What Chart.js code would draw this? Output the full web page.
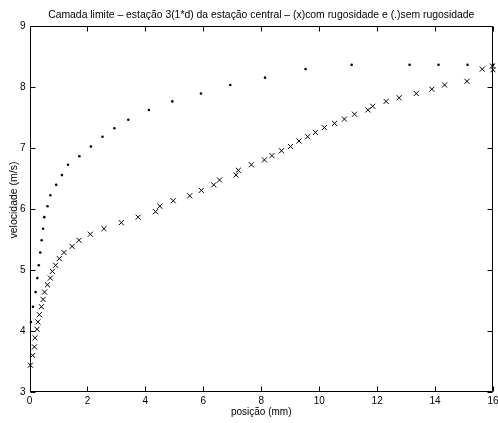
<!DOCTYPE html>
<html>
<head>
<meta charset="utf-8">
<script src="https://cdn.jsdelivr.net/npm/chart.js@4"></script>
<style>
  body { margin: 0; background: #fff; }
  #wrap { width: 498px; height: 423px; }
</style>
</head>
<body>
<div id="wrap"><canvas id="camada"></canvas></div>
<script>
// (.) sem rugosidade
const posSem = [0.05, 0.12, 0.21, 0.27, 0.32, 0.37, 0.42, 0.47, 0.51, 0.62, 0.72, 0.92, 1.12, 1.33, 1.72,
    2.12, 2.52, 2.93, 3.41, 4.12, 4.93, 5.92, 6.93, 8.13, 9.53, 11.12, 13.12, 14.12, 15.12, 16.0];
const velSem = [4.15, 4.40, 4.64, 4.87, 5.08, 5.29, 5.49, 5.68, 5.87, 6.05, 6.23, 6.40, 6.56, 6.73, 6.87,
    7.03, 7.19, 7.33, 7.47, 7.63, 7.77, 7.90, 8.04, 8.16, 8.30, 8.37, 8.37, 8.37, 8.37, 8.37];

// (x) com rugosidade
const posCom = [0.03, 0.11, 0.17, 0.19, 0.26, 0.29, 0.34, 0.41, 0.47, 0.52, 0.62, 0.72, 0.79, 0.90, 1.03,
    1.19, 1.47, 1.71, 2.10, 2.57, 3.17, 3.75, 4.35, 4.50, 4.96, 5.53, 5.93, 6.36, 6.56, 7.13, 7.21, 7.66,
    8.11, 8.37, 8.70, 9.01, 9.30, 9.60, 9.87, 10.18, 10.53, 10.87, 11.22, 11.68, 11.85, 12.31, 12.76,
    13.35, 13.89, 14.33, 15.10, 15.63, 15.98, 16.0];
const velCom = [3.44, 3.60, 3.74, 3.89, 4.03, 4.15, 4.27, 4.40, 4.52, 4.64, 4.76, 4.87, 4.98, 5.08, 5.19,
    5.29, 5.39, 5.49, 5.59, 5.68, 5.78, 5.87, 5.96, 6.05, 6.14, 6.22, 6.31, 6.40, 6.48, 6.56, 6.64, 6.73,
    6.81, 6.88, 6.96, 7.03, 7.12, 7.19, 7.26, 7.34, 7.41, 7.48, 7.56, 7.63, 7.69, 7.77, 7.83,
    7.90, 7.97, 8.04, 8.10, 8.30, 8.35, 8.29];

const xTicks = [0, 2, 4, 6, 8, 10, 12, 14, 16];
const yTicks = [3, 4, 5, 6, 7, 8, 9];

const toPoints = (xs, ys) => xs.map((v, i) => ({ x: v, y: ys[i] }));

const font = { family: 'Liberation Sans, Arial, sans-serif', size: 10 };

// matlab style box with inward ticks, plus the y label
const matlabBox = {
    id: 'matlabBox',
    afterDraw(chart) {
        const ctx = chart.ctx;
        const a = chart.chartArea;
        const sx = chart.scales.x, sy = chart.scales.y;
        ctx.save();
        ctx.strokeStyle = '#000';
        ctx.lineWidth = 1;
        const l = Math.round(a.left) + 0.5, r = Math.round(a.right) - 0.5;
        const t = Math.round(a.top) + 0.5, b = Math.round(a.bottom) - 0.5;
        ctx.beginPath();
        ctx.rect(l, t, r - l, b - t);
        xTicks.forEach(v => {
            const px = Math.round(sx.getPixelForValue(v)) + 0.5;
            ctx.moveTo(px, b); ctx.lineTo(px, b - 5);
            ctx.moveTo(px, t); ctx.lineTo(px, t + 5);
        });
        yTicks.forEach(v => {
            const py = Math.round(sy.getPixelForValue(v)) + 0.5;
            ctx.moveTo(l, py); ctx.lineTo(l + 5, py);
            ctx.moveTo(r, py); ctx.lineTo(r - 5, py);
        });
        ctx.stroke();

        ctx.translate(14, 200);
        ctx.rotate(-Math.PI / 2);
        ctx.fillStyle = '#000';
        ctx.font = '10.5px "Liberation Sans", Arial, sans-serif';
        ctx.textAlign = 'center';
        ctx.textBaseline = 'middle';
        ctx.fillText('velocidade (m/s)', 0, 0);
        ctx.restore();
    }
};

new Chart(document.getElementById('camada'), {
    type: 'scatter',
    data: {
        datasets: [{
            label: 'com rugosidade',
            data: toPoints(posCom, velCom),
            pointStyle: 'crossRot',
            pointRadius: 3.6,
            borderColor: '#000',
            borderWidth: 1,
            clip: false
        }, {
            label: 'sem rugosidade',
            data: toPoints(posSem, velSem),
            pointStyle: 'circle',
            pointRadius: 1.3,
            backgroundColor: '#000',
            borderColor: '#000',
            borderWidth: 0,
            clip: false
        }]
    },
    options: {
        responsive: true,
        maintainAspectRatio: false,
        animation: false,
        layout: { padding: { left: 0, right: 5, top: 0, bottom: 0 } },
        plugins: {
            legend: { display: false },
            tooltip: { enabled: false },
            title: {
                display: true,
                fullSize: false,
                text: 'Camada limite – estação 3(1*d) da estação central – (x)com rugosidade e (.)sem rugosidade',
                color: '#000',
                font: { ...font, size: 10.4, weight: 'normal' },
                padding: { top: 9, bottom: 5 }
            }
        },
        scales: {
            x: {
                type: 'linear',
                min: 0,
                max: 16,
                afterFit: s => { s.height = 31; s.paddingLeft = 0; s.paddingRight = 0; },
                afterBuildTicks: s => { s.ticks = xTicks.map(v => ({ value: v })); },
                grid: { display: false, drawTicks: false },
                border: { display: false },
                ticks: { color: '#000', font, padding: 3, maxRotation: 0 },
                title: { display: true, text: 'posição (mm)', color: '#000', font, padding: { top: 0, bottom: 5 } }
            },
            y: {
                type: 'linear',
                min: 3,
                max: 9,
                afterFit: s => { s.width = 29.5; s.paddingTop = 0; s.paddingBottom = 0; },
                afterBuildTicks: s => { s.ticks = yTicks.map(v => ({ value: v })); },
                grid: { display: false, drawTicks: false },
                border: { display: false },
                ticks: { color: '#000', font, padding: 4 }
            }
        }
    },
    plugins: [matlabBox]
});
</script>
</body>
</html>
